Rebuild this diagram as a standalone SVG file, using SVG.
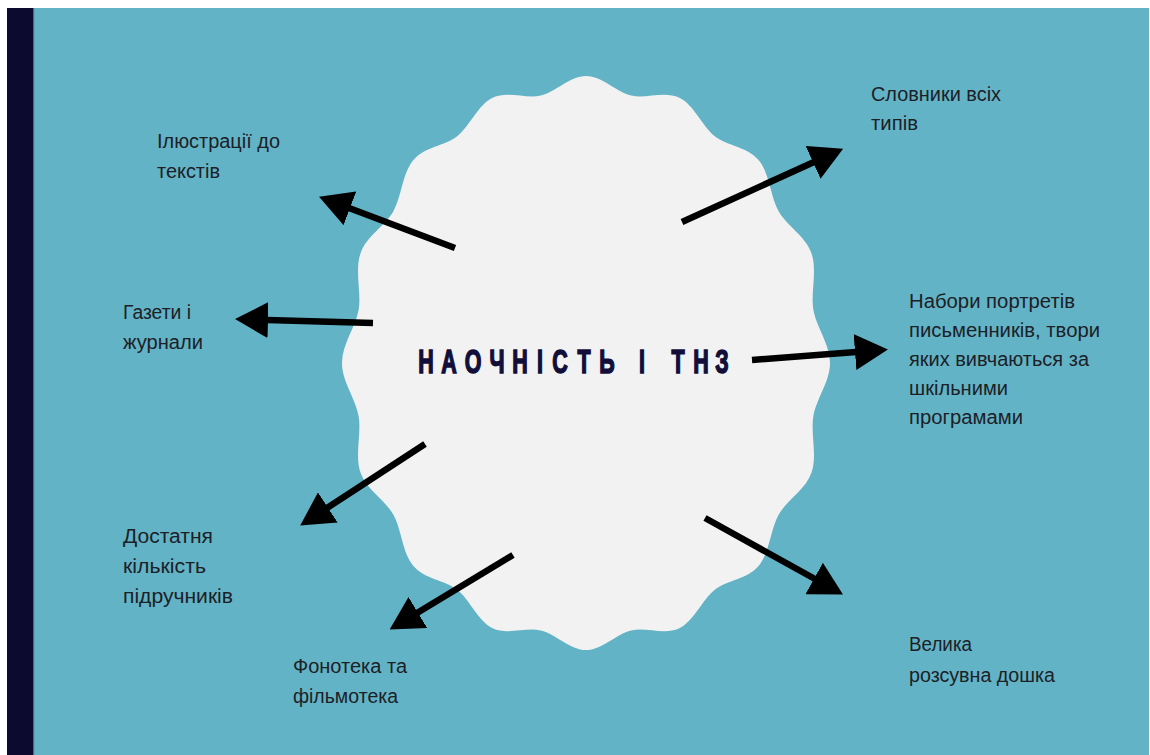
<svg xmlns="http://www.w3.org/2000/svg" width="1150" height="755" viewBox="0 0 1150 755">
<style>
.lbl{font-family:"Liberation Sans","DejaVu Sans",sans-serif;font-size:20px;fill:#1c2126}
.title{font-family:"Liberation Sans","DejaVu Sans",sans-serif;font-weight:bold;font-size:33px;fill:#120e3a;stroke:#120e3a;stroke-width:1.6;text-anchor:middle}
.conn{stroke:#000;stroke-width:6.5;fill:none;marker-end:url(#ah)}
</style>
<defs>
<marker id="ah" markerUnits="userSpaceOnUse" viewBox="0 0 33 36" markerWidth="33" markerHeight="36" refX="1" refY="18" orient="auto">
<path d="M0,0 L33,18 L0,36 Z" fill="#000"/>
</marker>
</defs>
<rect x="0" y="0" width="1150" height="755" fill="#ffffff"/>
<rect x="7" y="8" width="1142" height="747" fill="#63b3c7"/>
<rect x="7" y="8" width="26" height="747" fill="#0c0a2e"/>
<rect x="33" y="8" width="1.2" height="747" fill="#3f6f8c"/>
<g id="center">
<path transform="translate(586,363) scale(2.44,2.87)" fill="#f2f2f2" d="M100,0
C100,6.55 94.389,12.434 93.175,18.534
C91.962,24.635 94.895,32.217 92.388,38.268
C89.881,44.319 82.446,47.607 78.990,52.779
C75.534,57.951 75.343,66.079 70.711,70.711
C66.079,75.343 57.951,75.534 52.779,78.990
C47.607,82.446 44.319,89.881 38.268,92.388
C32.217,94.895 24.635,91.962 18.534,93.175
C12.434,94.389 6.55,100 0,100
C-6.55,100 -12.434,94.389 -18.534,93.175
C-24.635,91.962 -32.217,94.895 -38.268,92.388
C-44.319,89.881 -47.607,82.446 -52.779,78.990
C-57.951,75.534 -66.079,75.343 -70.711,70.711
C-75.343,66.079 -75.534,57.951 -78.990,52.779
C-82.446,47.607 -89.881,44.319 -92.388,38.268
C-94.895,32.217 -91.962,24.635 -93.175,18.534
C-94.389,12.434 -100,6.55 -100,0
C-100,-6.55 -94.389,-12.434 -93.175,-18.534
C-91.962,-24.635 -94.895,-32.217 -92.388,-38.268
C-89.881,-44.319 -82.446,-47.607 -78.990,-52.779
C-75.534,-57.951 -75.343,-66.079 -70.711,-70.711
C-66.079,-75.343 -57.951,-75.534 -52.779,-78.990
C-47.607,-82.446 -44.319,-89.881 -38.268,-92.388
C-32.217,-94.895 -24.635,-91.962 -18.534,-93.175
C-12.434,-94.389 -6.55,-100 0,-100
C6.55,-100 12.434,-94.389 18.534,-93.175
C24.635,-91.962 32.217,-94.895 38.268,-92.388
C44.319,-89.881 47.607,-82.446 52.779,-78.990
C57.951,-75.534 66.079,-75.343 70.711,-70.711
C75.343,-66.079 75.534,-57.951 78.990,-52.779
C82.446,-47.607 89.881,-44.319 92.388,-38.268
C94.895,-32.217 91.962,-24.635 93.175,-18.534
C94.389,-12.434 100,-6.55 100,0 Z"/>
<text class="title" transform="scale(0.65,1)" x="655.4 690.8 727.7 764.6 800 830.8 861.5 898.5 933.8 961.5 987.7 1015.4 1043.1 1078.5 1110.8" y="373">НАОЧНІСТЬ І ТНЗ</text>
</g>
<g id="connectors">
<line class="conn" x1="455" y1="248" x2="349" y2="208"/>
<line class="conn" x1="373" y1="323" x2="267" y2="320"/>
<line class="conn" x1="425" y1="444" x2="327" y2="508"/>
<line class="conn" x1="513" y1="555" x2="417" y2="613"/>
<line class="conn" x1="705" y1="518" x2="815" y2="579"/>
<line class="conn" x1="682" y1="222" x2="814" y2="162"/>
<line class="conn" x1="752" y1="360" x2="856" y2="352"/>
</g>
<g id="n-ilustratsii">
<text class="lbl" x="157" y="148" textLength="123" lengthAdjust="spacingAndGlyphs">Ілюстрації до</text>
<text class="lbl" x="157" y="178" textLength="63" lengthAdjust="spacingAndGlyphs">текстів</text>
</g>
<g id="n-gazety">
<text class="lbl" x="123" y="319" textLength="68" lengthAdjust="spacingAndGlyphs">Газети і</text>
<text class="lbl" x="123" y="349" textLength="80" lengthAdjust="spacingAndGlyphs">журнали</text>
</g>
<g id="n-pidruchnyky">
<text class="lbl" x="123" y="543" textLength="90" lengthAdjust="spacingAndGlyphs">Достатня</text>
<text class="lbl" x="123" y="573" textLength="83" lengthAdjust="spacingAndGlyphs">кількість</text>
<text class="lbl" x="123" y="603" textLength="110" lengthAdjust="spacingAndGlyphs">підручників</text>
</g>
<g id="n-fonoteka">
<text class="lbl" x="293" y="673" textLength="114" lengthAdjust="spacingAndGlyphs">Фонотека та</text>
<text class="lbl" x="293" y="703" textLength="105" lengthAdjust="spacingAndGlyphs">фільмотека</text>
</g>
<g id="n-slovnyky">
<text class="lbl" x="871" y="101" textLength="130" lengthAdjust="spacingAndGlyphs">Словники всіх</text>
<text class="lbl" x="871" y="130" textLength="47" lengthAdjust="spacingAndGlyphs">типів</text>
</g>
<g id="n-portrety">
<text class="lbl" x="909" y="308" textLength="166" lengthAdjust="spacingAndGlyphs">Набори портретів</text>
<text class="lbl" x="909" y="337" textLength="191" lengthAdjust="spacingAndGlyphs">письменників, твори</text>
<text class="lbl" x="909" y="366" textLength="180" lengthAdjust="spacingAndGlyphs">яких вивчаються за</text>
<text class="lbl" x="909" y="395" textLength="99" lengthAdjust="spacingAndGlyphs">шкільними</text>
<text class="lbl" x="909" y="424" textLength="114" lengthAdjust="spacingAndGlyphs">програмами</text>
</g>
<g id="n-doshka">
<text class="lbl" x="909" y="651" textLength="63" lengthAdjust="spacingAndGlyphs">Велика</text>
<text class="lbl" x="909" y="682" textLength="146" lengthAdjust="spacingAndGlyphs">розсувна дошка</text>
</g>
</svg>
